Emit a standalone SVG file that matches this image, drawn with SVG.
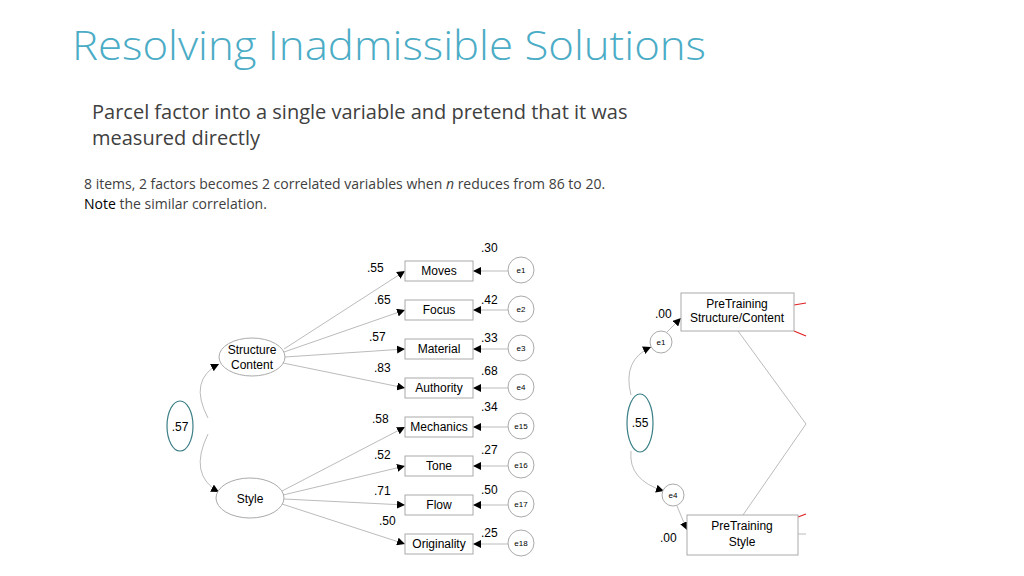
<svg xmlns="http://www.w3.org/2000/svg" width="1024" height="576" viewBox="0 0 1024 576">
<style>
text{font-family:"Liberation Sans",Arial,sans-serif;fill:#000}
.t{font-family:"Open Sans","Noto Sans",sans-serif;fill:#404040}
.b{fill:#fff;stroke:#aaa;stroke-width:1}
.c{fill:#fff;stroke:#aaa;stroke-width:1}
.l{stroke:#aaa;stroke-width:0.8;fill:none}
.n{font-size:12px}
.s{font-size:12px;text-anchor:middle}
.e{font-size:8px;text-anchor:middle}
.g{fill:none;stroke:#3a7f86;stroke-width:1.2}
.r{stroke:#e02020;stroke-width:1.2}
</style>
<defs><marker id="a" viewBox="0 0 10 10" refX="10" refY="5" markerWidth="8" markerHeight="8" orient="auto" markerUnits="userSpaceOnUse"><path d="M0,0L10,5L0,10z" fill="#000"/></marker></defs>
<text x="72" y="60" style="font-family:'Open Sans','Noto Sans',sans-serif;font-size:40px;fill:#4bacc6;font-weight:300" textLength="634" lengthAdjust="spacingAndGlyphs">Resolving Inadmissible Solutions</text>
<text class="t" x="92" y="119" font-size="20">Parcel factor into a single variable and pretend that it was</text>
<text class="t" x="92" y="145" font-size="20">measured directly</text>
<text class="t" x="84" y="189" font-size="14">8 items, 2 factors becomes  2 correlated variables when <tspan font-style="italic">n</tspan> reduces from 86 to 20.</text>
<text class="t" x="84" y="209" font-size="14"><tspan fill="#000">Note</tspan> the similar correlation.</text>
<g id="connectors">
<path class="l" marker-end="url(#a)" d="M284,349L405,271"/>
<path class="l" marker-end="url(#a)" d="M284,352L405,310"/>
<path class="l" marker-end="url(#a)" d="M285,357L405,349"/>
<path class="l" marker-end="url(#a)" d="M283,363L405,388"/>
<path class="l" marker-end="url(#a)" d="M282,491L405,427"/>
<path class="l" marker-end="url(#a)" d="M283,495L405,466"/>
<path class="l" marker-end="url(#a)" d="M284,499L405,505"/>
<path class="l" marker-end="url(#a)" d="M282,504L405,544"/>
<path class="l" marker-end="url(#a)" d="M508,271L473,271"/>
<path class="l" marker-end="url(#a)" d="M508,310L473,310"/>
<path class="l" marker-end="url(#a)" d="M508,349L473,349"/>
<path class="l" marker-end="url(#a)" d="M508,388L473,388"/>
<path class="l" marker-end="url(#a)" d="M508,427L473,427"/>
<path class="l" marker-end="url(#a)" d="M508,466L473,466"/>
<path class="l" marker-end="url(#a)" d="M508,505L473,505"/>
<path class="l" marker-end="url(#a)" d="M508,544L473,544"/>
<path class="l" marker-end="url(#a)" d="M208,418Q188,380 219,364"/>
<path class="l" marker-end="url(#a)" d="M208,434Q188,475 219,492"/>
<path class="l" marker-end="url(#a)" d="M667,332L681,318"/>
<path class="l" marker-end="url(#a)" d="M677,506L687,530"/>
<path class="l" marker-end="url(#a)" d="M631,395Q622,360 651,347"/>
<path class="l" marker-end="url(#a)" d="M631,451Q628,480 664,491"/>
<path class="l" d="M738,331L806,424L743,515"/>
<path class="r" d="M794,305L806,303M794,331L806,336M798,517L806,514"/>
<path class="l" d="M798,534L806,534"/>
</g>
<g id="corr1"><ellipse class="g" cx="180" cy="426" rx="13" ry="25"/><text x="180" y="431" class="s">.57</text></g>
<g id="structure"><ellipse class="c" cx="252" cy="357" rx="33" ry="19"/><text x="252" y="354" class="s" font-size="11">Structure</text><text x="252" y="369" class="s" font-size="11">Content</text></g>
<g id="style"><ellipse class="c" cx="250" cy="498" rx="34" ry="20"/><text x="250" y="503" class="s">Style</text></g>
<g id="moves"><rect class="b" x="405" y="261" width="68" height="20"/><text x="439" y="275" class="s" font-size="11">Moves</text></g>
<g id="focus"><rect class="b" x="405" y="300" width="68" height="20"/><text x="439" y="314" class="s" font-size="11">Focus</text></g>
<g id="material"><rect class="b" x="405" y="339" width="68" height="20"/><text x="439" y="353" class="s" font-size="11">Material</text></g>
<g id="authority"><rect class="b" x="405" y="378" width="68" height="20"/><text x="439" y="392" class="s" font-size="11">Authority</text></g>
<g id="mechanics"><rect class="b" x="405" y="417" width="68" height="20"/><text x="439" y="431" class="s" font-size="11">Mechanics</text></g>
<g id="tone"><rect class="b" x="405" y="456" width="68" height="20"/><text x="439" y="470" class="s" font-size="11">Tone</text></g>
<g id="flow"><rect class="b" x="405" y="495" width="68" height="20"/><text x="439" y="509" class="s" font-size="11">Flow</text></g>
<g id="originality"><rect class="b" x="405" y="534" width="68" height="20"/><text x="439" y="548" class="s" font-size="11">Originality</text></g>
<g id="e1"><circle class="c" cx="521" cy="270" r="13"/><text x="521" y="273" class="e">e1</text></g>
<g id="e2"><circle class="c" cx="521" cy="309" r="13"/><text x="521" y="312" class="e">e2</text></g>
<g id="e3"><circle class="c" cx="521" cy="348" r="13"/><text x="521" y="351" class="e">e3</text></g>
<g id="e4"><circle class="c" cx="521" cy="387" r="13"/><text x="521" y="390" class="e">e4</text></g>
<g id="e15"><circle class="c" cx="521" cy="426" r="13"/><text x="521" y="429" class="e">e15</text></g>
<g id="e16"><circle class="c" cx="521" cy="465" r="13"/><text x="521" y="468" class="e">e16</text></g>
<g id="e17"><circle class="c" cx="521" cy="504" r="13"/><text x="521" y="507" class="e">e17</text></g>
<g id="e18"><circle class="c" cx="521" cy="543" r="13"/><text x="521" y="546" class="e">e18</text></g>
<g id="labels" class="n">
<text x="367" y="272">.55</text><text x="374" y="304">.65</text><text x="369" y="341">.57</text><text x="374" y="372">.83</text>
<text x="372" y="423">.58</text><text x="374" y="459">.52</text><text x="374" y="495">.71</text><text x="379" y="525">.50</text>
<text x="481" y="252">.30</text><text x="481" y="304">.42</text><text x="481" y="342">.33</text><text x="481" y="375">.68</text>
<text x="481" y="411">.34</text><text x="481" y="454">.27</text><text x="481" y="494">.50</text><text x="481" y="537">.25</text>
</g>
<g id="pre1"><rect class="b" x="681" y="293" width="113" height="38"/><text x="737" y="308" class="s" font-size="11">PreTraining</text><text x="737" y="322" class="s" font-size="11">Structure/Content</text></g>
<g id="pre2"><rect class="b" x="687" y="515" width="111" height="40"/><text x="742" y="530" class="s" font-size="11">PreTraining</text><text x="742" y="546" class="s" font-size="11">Style</text></g>
<g id="re1"><circle class="c" cx="661" cy="342" r="11"/><text x="661" y="345" class="e">e1</text></g>
<g id="re4"><circle class="c" cx="673" cy="495" r="11"/><text x="673" y="498" class="e">e4</text></g>
<g id="corr2"><ellipse class="g" cx="640" cy="423" rx="13" ry="29"/><text x="640" y="427" class="s">.55</text></g>
<text x="655" y="318" class="n">.00</text><text x="660" y="542" class="n">.00</text>
</svg>
